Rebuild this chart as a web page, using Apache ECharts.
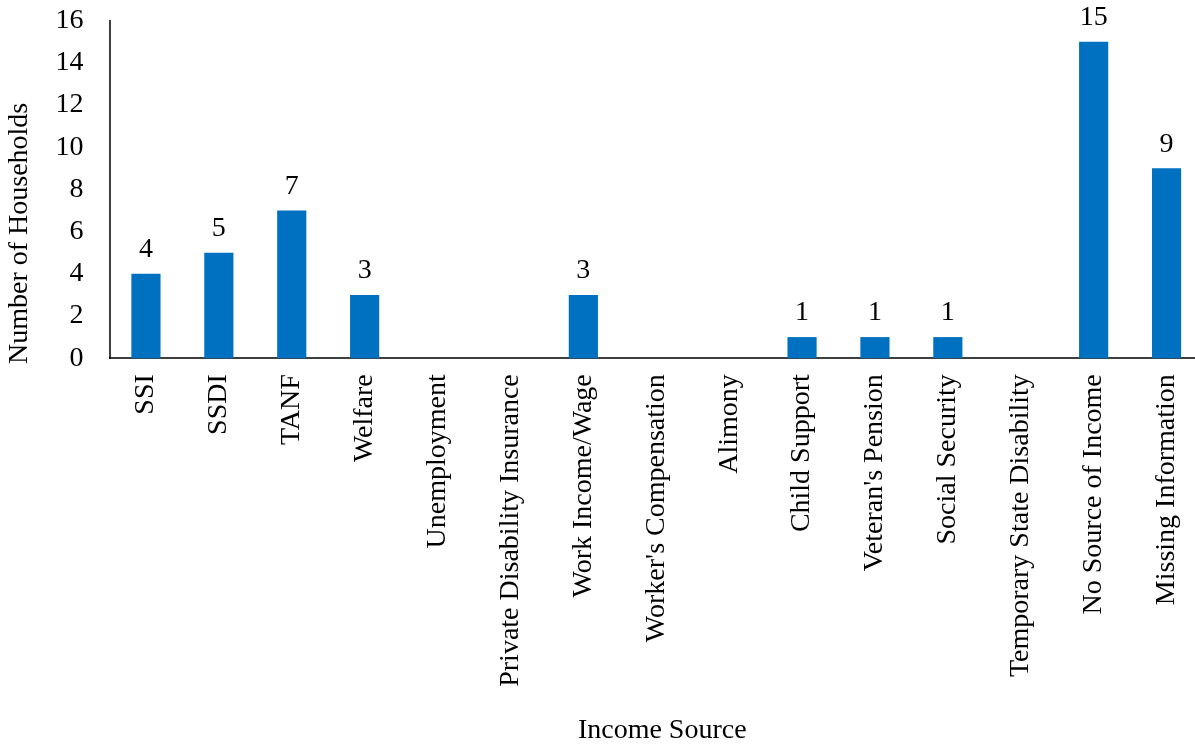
<!DOCTYPE html>
<html>
<head>
<meta charset="utf-8">
<script src="https://cdn.jsdelivr.net/npm/echarts@6/dist/echarts.min.js"></script>
<style>
html,body{margin:0;padding:0;background:#fff;}
#chart{width:1195px;height:747px;}
</style>
</head>
<body>
<div id="chart"></div>
<script>
const categories = ["SSI","SSDI","TANF","Welfare","Unemployment","Private Disability Insurance","Work Income/Wage","Worker's Compensation","Alimony","Child Support","Veteran's Pension","Social Security","Temporary State Disability","No Source of Income","Missing Information"];
const households = [4,5,7,3,0,0,3,0,0,1,1,1,0,15,9];
const yTicks = {min:0, max:16, interval:2};

const FONT = "'Liberation Serif','Times New Roman',serif";
const chart = echarts.init(document.getElementById('chart'), null, {renderer:'canvas'});
chart.setOption({
  animation:false,
  backgroundColor:'#ffffff',
  grid:{left:109.5, top:20.6, width:1093.5, height:337.6, containLabel:false, outerBoundsMode:'none'},
  xAxis:{
    type:'category',
    data:categories,
    name:'Income Source',
    nameLocation:'middle',
    nameGap:358,
    nameTextStyle:{fontFamily:FONT, fontSize:28, color:'#000', padding:[0,0,0,12]},
    axisLine:{lineStyle:{color:'#000', width:1.5}},
    axisTick:{show:false},
    axisLabel:{rotate:90, interval:0, margin:16, fontFamily:FONT, fontSize:28, color:'#000'}
  },
  yAxis:{
    type:'value',
    min:yTicks.min, max:yTicks.max, interval:yTicks.interval,
    name:'Number of Households',
    nameLocation:'middle',
    nameGap:76,
    nameRotate:90,
    nameTextStyle:{fontFamily:FONT, fontSize:28, color:'#000', padding:[0,88,0,0]},
    axisLine:{show:true, lineStyle:{color:'#000', width:1.5}},
    axisTick:{show:false},
    splitLine:{show:false},
    axisLabel:{margin:26, fontFamily:FONT, fontSize:28, color:'#000'}
  },
  series:[{
    type:'bar',
    data:households.map(v => v === 0 ? null : v),
    barWidth:'40%',
    itemStyle:{color:'#0070C0'},
    label:{show:true, position:'top', distance:10, fontFamily:FONT, fontSize:28, color:'#000'}
  }]
});
</script>
</body>
</html>
